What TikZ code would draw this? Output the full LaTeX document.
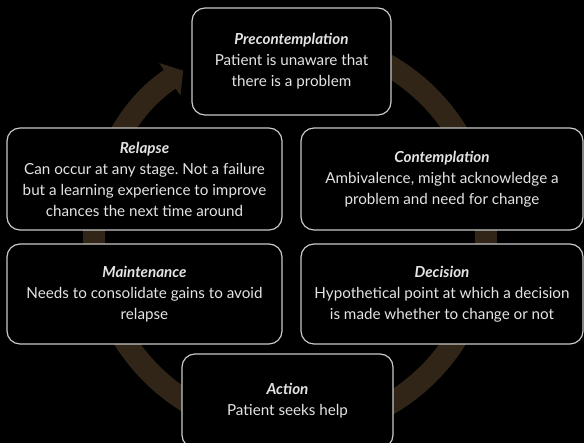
\documentclass[tikz,border=0pt]{standalone}
\usepackage{fontspec}
\setmainfont{Lato}
\usetikzlibrary{arrows.meta}
\definecolor{ringbrown}{RGB}{48,37,22}
\definecolor{boxline}{RGB}{200,200,200}
\definecolor{boxtext}{RGB}{228,228,228}
\tikzset{
    stage/.style={draw=boxline, line width=1.2pt, fill=black, rounded corners=13pt,
        text=boxtext, align=center, inner sep=0pt, font=\fontsize{15.2}{21}\selectfont\frenchspacing},
}
\newcommand{\stagetitle}[1]{\textbf{\textit{#1}}}
\begin{document}
\begin{tikzpicture}[x=1pt,y=1pt]
    % Background
    \fill[black] (0,0) rectangle (584,443);
    \useasboundingbox (0,0) rectangle (584,443);
    % Cycle arrow behind the stages
    \coordinate (c) at (290,208);
    \draw[ringbrown, line width=22pt, -{Triangle[width=38pt,length=16pt]}]
        (c) ++(95:196) arc[start angle=95, end angle=-237, radius=196];
    % Stages
    \node[stage, minimum width=199pt, minimum height=107pt] (precont) at (291.5,381.5)
        {\stagetitle{Precontemplation}\\Patient is unaware that\\there is a problem};
    \node[stage, minimum width=282pt, minimum height=102pt] (contempl) at (442,264)
        {\stagetitle{Contemplation}\\Ambivalence, might acknowledge a\\problem and need for change};
    \node[stage, minimum width=282pt, minimum height=100pt] (decision) at (442,149)
        {\stagetitle{Decision}\\Hypothetical point at which a decision\\is made whether to change or not};
    \node[stage, minimum width=211pt, minimum height=94pt] (action) at (287.5,42)
        {\stagetitle{Action}\\Patient seeks help};
    \node[stage, minimum width=275pt, minimum height=100pt] (maint) at (144.5,149)
        {\stagetitle{Maintenance}\\Needs to consolidate gains to avoid\\relapse};
    \node[stage, minimum width=275pt, minimum height=102pt] (relapse) at (144.5,264)
        {\stagetitle{Relapse}\\Can occur at any stage. Not a failure\\but a learning experience to improve\\chances the next time around};
\end{tikzpicture}
\end{document}
